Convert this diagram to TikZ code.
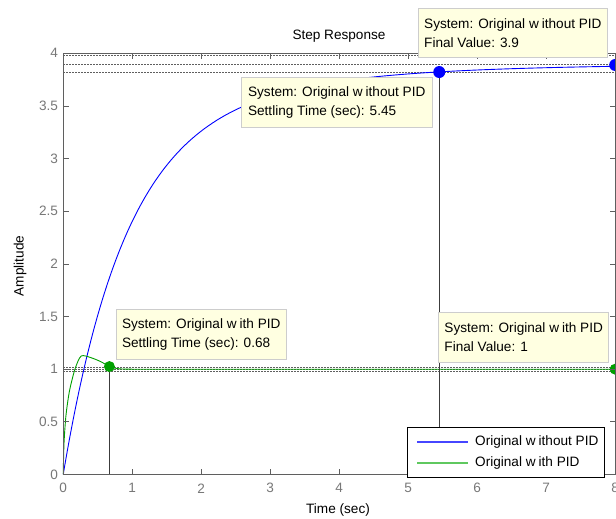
\documentclass[tikz,border=0pt]{standalone}
\usepackage{fontspec}
\setmainfont{Liberation Sans}
\definecolor{axisgray}{RGB}{95,95,95}
\definecolor{ticklabel}{RGB}{120,120,120}
\definecolor{boundgray}{RGB}{95,95,95}
\definecolor{dropgray}{RGB}{60,60,60}
\definecolor{tipfill}{RGB}{255,255,225}
\definecolor{tipborder}{RGB}{205,205,205}
\definecolor{plotblue}{RGB}{0,0,255}
\definecolor{keyblue}{RGB}{70,70,255}
\definecolor{plotgreen}{RGB}{0,160,0}
\definecolor{legendgreen}{RGB}{95,200,95}
\begin{document}
\begin{tikzpicture}[x=1pt,y=-1pt,
  every node/.style={font=\fontsize{13.6}{19}\selectfont, inner sep=0pt},
  axisline/.style={draw=axisgray, line width=1pt},
  tickmark/.style={draw=axisgray, line width=0.8pt},
  ticklbl/.style={text=ticklabel},
  boundline/.style={draw=boundgray, line width=0.6pt, dash pattern=on 2pt off 1pt},
  dropline/.style={draw=dropgray, line width=0.7pt},
  respblue/.style={draw=plotblue, line width=0.9pt},
  respgreen/.style={draw=plotgreen, line width=0.9pt},
  legblue/.style={fill=keyblue, draw=none},
  leggreen/.style={fill=legendgreen, draw=none},
  dotmark/.style={circle, minimum size=12pt, inner sep=0pt},
  tipbox/.style={draw=tipborder, fill=tipfill, line width=0.8pt, align=left, anchor=north west},
  legendbox/.style={draw=black, fill=white, line width=1pt, anchor=north west},
]
\useasboundingbox (0,0) rectangle (616,519);
\fill[white] (0,0) rectangle (616,519);

% axes in data units: time 0..8 s, amplitude 0..4
\begin{scope}[shift={(63.2pt,-474.5pt)}, x=69pt, y=105.3pt]
  % settling bands and final-value levels
  \foreach \v in {0.98,1.0,1.02,3.822,3.9,3.978}
    \draw[boundline] (0,\v) -- (8,\v);

  % step responses
  \draw[respblue] plot[domain=0:8, samples=241, variable=\t]
    (\t, {3.9-3.15*exp(-\t/0.88)-0.75*exp(-\t/2.3)});
  \draw[respgreen] plot[smooth, tension=0.45] coordinates
    {(0,0) (0.012,0.3) (0.04,0.56) (0.09,0.79) (0.17,1.0) (0.26,1.125)
     (0.4,1.11) (0.55,1.07) (0.67,1.025) (0.8,1.004) (1,1)} -- (8,1);

  % characteristic points
  \coordinate (pBlueTs) at (5.45,3.822);
  \coordinate (pBlueFv) at (8,3.889);
  \coordinate (pGreenTs) at (0.67,1.025);
  \coordinate (pGreenFv) at (8,1.0);
  \coordinate (footBlue) at (5.45,0);
  \coordinate (footGreen) at (0.67,0);
  \draw[dropline] (pBlueTs) -- (footBlue);
  \draw[dropline] (pGreenTs) -- (footGreen);
  \node[dotmark, fill=plotblue] (mBlueTs) at (pBlueTs) {};
  \node[dotmark, fill=plotblue] (mBlueFv) at (pBlueFv) {};
  \node[dotmark, fill=plotgreen, minimum size=11pt] (mGreenTs) at (pGreenTs) {};
  \node[dotmark, fill=plotgreen, minimum size=11pt] (mGreenFv) at (pGreenFv) {};

  % frame and ticks
  \draw[axisline] (0,0) rectangle (8,4);
  \foreach \t in {0,...,8} {
    \draw[tickmark] (\t,0) -- ++(0,5.3pt);
    \draw[tickmark] (\t,4) -- ++(0,-5.3pt);
    \node[ticklbl, yshift=-13.8pt] (xt\t) at (\t,0) {\t};
  }
  \foreach \v in {0,0.5,1,1.5,2,2.5,3,3.5,4} {
    \draw[tickmark] (0,\v) -- ++(5.3pt,0);
    \draw[tickmark] (8,\v) -- ++(-5.3pt,0);
    \node[ticklbl, anchor=east, xshift=-5pt] at (0,\v) {\v};
  }
\end{scope}

% titles
\node (title) at (339,36) {Step Response};
\node (xlabel) at (338,510) {Time (sec)};
\node[rotate=90] (ylabel) at (20,266) {Amplitude};

% data tips
\node[tipbox, minimum width=188.4pt, minimum height=49pt] (tipBlueFv) at (418.3,8.3)
  {System: Original w\kern3pt ithout PID\\Final Value: 3.9};
\node[tipbox, minimum width=190.7pt, minimum height=50pt] (tipBlueTs) at (241,77.3)
  {System: Original w\kern3pt ithout PID\\Settling Time (sec): 5.45};
\node[tipbox, minimum width=170.3pt, minimum height=50pt] (tipGreenTs) at (115.7,309.3)
  {System: Original w\kern3pt ith PID\\Settling Time (sec): 0.68};
\node[tipbox, minimum width=170pt, minimum height=49.4pt] (tipGreenFv) at (438.3,312.3)
  {System: Original w\kern3pt ith PID\\Final Value: 1};

% legend with key strokes as thin bars
\node[legendbox, minimum width=197.3pt, minimum height=49.4pt] (legend) at (406.7,427.3) {};
\coordinate (keyBlueA) at ([shift={(10.6,13.5)}]legend.north west);
\coordinate (keyBlueB) at ([shift={(61.6,15.3)}]legend.north west);
\coordinate (keyGreenA) at ([shift={(10.6,34.5)}]legend.north west);
\coordinate (keyGreenB) at ([shift={(61.6,36.2)}]legend.north west);
\fill[legblue] (keyBlueA) rectangle (keyBlueB);
\fill[leggreen] (keyGreenA) rectangle (keyGreenB);
\node[anchor=west] (legBlue) at ([shift={(68.3,14.4)}]legend.north west) {Original w\kern3pt ithout PID};
\node[anchor=west] (legGreen) at ([shift={(68.3,35.4)}]legend.north west) {Original w\kern3pt ith PID};
\end{tikzpicture}
\end{document}
